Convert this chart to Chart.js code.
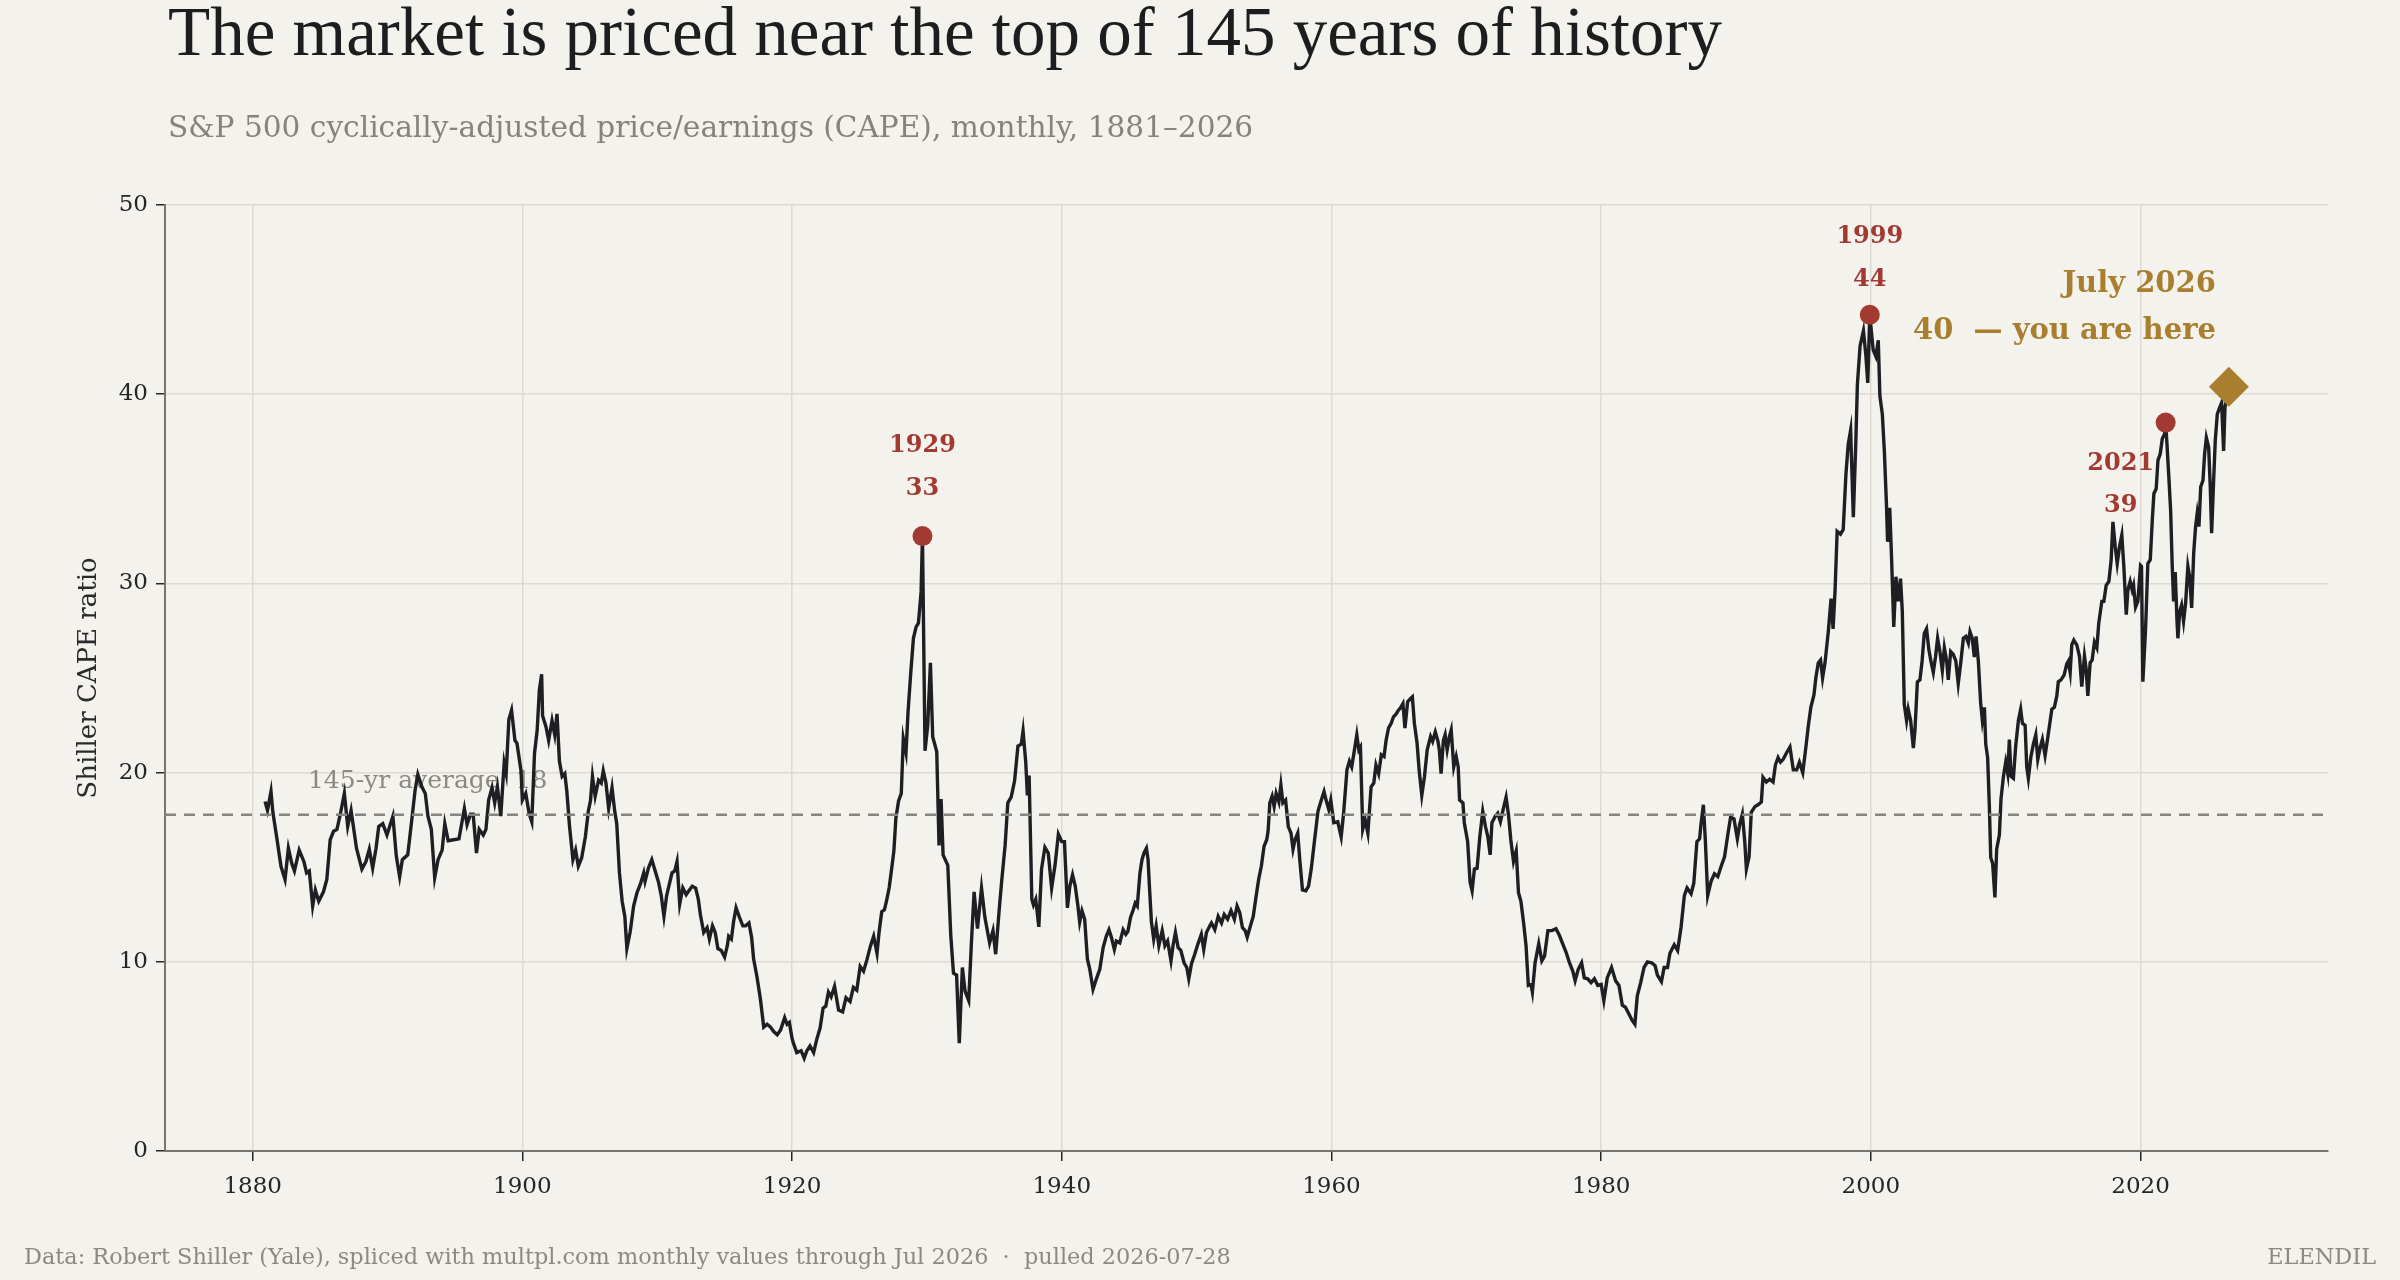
<!DOCTYPE html>
<html>
<head>
<meta charset="utf-8">
<title>Shiller CAPE</title>
<script src="https://cdn.jsdelivr.net/npm/chart.js@4.4.1/dist/chart.umd.min.js"></script>
<style>
  html, body { margin: 0; padding: 0; background: #f4f2ec; }
  canvas { display: block; }
</style>
</head>
<body>
<canvas id="capeChart" width="2400" height="1280" style="width:2400px;height:1280px"></canvas>
<script>
// monthly CAPE (decimal year, ratio)
const capeYears = [
  1880.92, 1881.1, 1881.36, 1881.5, 1881.8, 1882.1, 1882.4, 1882.65, 1882.9, 1883.1,
  1883.45, 1883.8, 1884.0, 1884.2, 1884.45, 1884.65, 1884.9, 1885.25, 1885.5, 1885.75,
  1886.0, 1886.25, 1886.5, 1886.8, 1887.05, 1887.3, 1887.7, 1888.1, 1888.4, 1888.65,
  1888.9, 1889.15, 1889.35, 1889.65, 1889.96, 1890.2, 1890.4, 1890.65, 1890.9, 1891.1,
  1891.5, 1891.8, 1892.05, 1892.25, 1892.55, 1892.8, 1893.0, 1893.25, 1893.5, 1893.75,
  1894.05, 1894.25, 1894.5, 1894.9, 1895.3, 1895.5, 1895.7, 1895.9, 1896.15, 1896.35,
  1896.6, 1896.8, 1897.1, 1897.3, 1897.5, 1897.75, 1897.95, 1898.15, 1898.4, 1898.65,
  1898.8, 1899.0, 1899.2, 1899.45, 1899.6, 1899.9, 1900.0, 1900.25, 1900.5, 1900.7,
  // 1901-1920
  1900.9, 1901.1, 1901.26, 1901.43, 1901.5, 1901.76, 1901.95, 1902.2, 1902.4, 1902.57,
  1902.75, 1902.95, 1903.15, 1903.3, 1903.5, 1903.75, 1903.95, 1904.15, 1904.4, 1904.67,
  1904.9, 1905.05, 1905.2, 1905.4, 1905.65, 1905.85, 1906.0, 1906.2, 1906.4, 1906.65,
  1906.85, 1907.0, 1907.2, 1907.4, 1907.6, 1907.75, 1908.0, 1908.25, 1908.5, 1908.75,
  1909.0, 1909.1, 1909.35, 1909.6, 1909.85, 1910.1, 1910.3, 1910.5, 1910.7, 1910.9,
  1911.1, 1911.3, 1911.47, 1911.67, 1911.9, 1912.15, 1912.35, 1912.6, 1912.85, 1913.05,
  1913.2, 1913.45, 1913.7, 1913.87, 1914.1, 1914.3, 1914.5, 1914.75, 1915.0, 1915.2,
  1915.3, 1915.5, 1915.67, 1915.85, 1916.1, 1916.35, 1916.55, 1916.8, 1917.0, 1917.15,
  1917.4, 1917.65, 1917.9, 1918.15, 1918.4, 1918.65, 1918.9, 1919.15, 1919.45, 1919.63,
  1919.8, 1920.0,
  // 1920-1940
  1920.1, 1920.35, 1920.67, 1920.9, 1921.1, 1921.33, 1921.6, 1921.83, 1922.08, 1922.3,
  1922.5, 1922.7, 1922.9, 1923.15, 1923.45, 1923.75, 1924.0, 1924.3, 1924.55, 1924.8,
  1925.05, 1925.3, 1925.55, 1925.8, 1926.05, 1926.3, 1926.45, 1926.65, 1926.85, 1927.0,
  1927.2, 1927.4, 1927.55, 1927.7, 1927.9, 1928.1, 1928.25, 1928.45, 1928.6, 1928.8,
  1929.0, 1929.2, 1929.37, 1929.57, 1929.67, 1929.86, 1930.06, 1930.26, 1930.43, 1930.73,
  1930.9, 1931.05, 1931.2, 1931.55, 1931.77, 1931.97, 1932.2, 1932.4, 1932.63, 1932.83,
  1933.1, 1933.3, 1933.5, 1933.75, 1934.05, 1934.3, 1934.65, 1934.9, 1935.1, 1935.35,
  1935.55, 1935.8, 1936.0, 1936.25, 1936.5, 1936.75, 1937.0, 1937.13, 1937.33, 1937.45,
  1937.58, 1937.78, 1937.9, 1938.07, 1938.3, 1938.5, 1938.75, 1939.0, 1939.25, 1939.5,
  1939.75, 1940.0,
  // 1940-1960
  1940.2, 1940.42, 1940.6, 1940.8, 1941.0, 1941.2, 1941.33, 1941.5, 1941.7, 1941.9,
  1942.08, 1942.32, 1942.57, 1942.82, 1943.07, 1943.3, 1943.5, 1943.68, 1943.9, 1944.05,
  1944.3, 1944.55, 1944.75, 1944.9, 1945.1, 1945.3, 1945.45, 1945.6, 1945.8, 1945.95,
  1946.1, 1946.28, 1946.4, 1946.5, 1946.65, 1946.82, 1947.0, 1947.2, 1947.45, 1947.65,
  1947.85, 1948.1, 1948.25, 1948.43, 1948.63, 1948.83, 1949.07, 1949.27, 1949.42, 1949.62,
  1949.86, 1950.1, 1950.35, 1950.53, 1950.73, 1950.98, 1951.1, 1951.35, 1951.6, 1951.85,
  1952.05, 1952.3, 1952.55, 1952.8, 1953.0, 1953.2, 1953.4, 1953.6, 1953.75, 1953.95,
  1954.2, 1954.4, 1954.6, 1954.8, 1955.0, 1955.2, 1955.3, 1955.43, 1955.6, 1955.75,
  1955.9, 1956.1, 1956.25, 1956.4, 1956.6, 1956.8, 1957.0, 1957.15, 1957.3, 1957.5,
  1957.65, 1957.85, 1958.1, 1958.3, 1958.5, 1958.75, 1959.0, 1959.25, 1959.45, 1959.6,
  1959.8, 1959.95,
  // 1960-1980
  1960.17, 1960.47, 1960.72, 1960.9, 1961.15, 1961.33, 1961.5, 1961.65, 1961.88, 1962.03,
  1962.15, 1962.32, 1962.5, 1962.7, 1962.94, 1963.14, 1963.3, 1963.5, 1963.7, 1963.9,
  1964.05, 1964.23, 1964.43, 1964.6, 1964.8, 1964.97, 1965.1, 1965.3, 1965.45, 1965.65,
  1965.85, 1966.0, 1966.15, 1966.35, 1966.5, 1966.7, 1966.9, 1967.1, 1967.35, 1967.5,
  1967.7, 1967.9, 1968.0, 1968.13, 1968.3, 1968.43, 1968.58, 1968.75, 1968.88, 1969.07,
  1969.25, 1969.4, 1969.5, 1969.75, 1969.85, 1970.1, 1970.28, 1970.43, 1970.6, 1970.8,
  1971.0, 1971.22, 1971.42, 1971.6, 1971.77, 1971.9, 1972.15, 1972.33, 1972.53, 1972.7,
  1972.95, 1973.13, 1973.3, 1973.5, 1973.7, 1973.87, 1974.05, 1974.25, 1974.43, 1974.6,
  1974.8, 1974.9, 1975.1, 1975.37, 1975.6, 1975.8, 1976.05, 1976.35, 1976.65, 1976.9,
  1977.15, 1977.4, 1977.65, 1977.9, 1978.07, 1978.3, 1978.55, 1978.75, 1979.0, 1979.25,
  1979.5, 1979.75, 1980.0,
  // 1980-2000
  1980.2, 1980.45, 1980.77, 1981.07, 1981.32, 1981.57, 1981.8, 1982.05, 1982.3, 1982.5,
  1982.68, 1982.93, 1983.18, 1983.43, 1983.75, 1984.0, 1984.17, 1984.47, 1984.67, 1984.92,
  1985.1, 1985.42, 1985.67, 1985.92, 1986.17, 1986.37, 1986.67, 1986.87, 1987.1, 1987.3,
  1987.4, 1987.58, 1987.73, 1987.9, 1988.15, 1988.4, 1988.65, 1988.9, 1989.15, 1989.4,
  1989.6, 1989.85, 1990.1, 1990.27, 1990.47, 1990.65, 1990.77, 1990.97, 1991.13, 1991.4,
  1991.63, 1991.88, 1992.0, 1992.25, 1992.5, 1992.75, 1992.92, 1993.12, 1993.3, 1993.5,
  1993.75, 1994.0, 1994.25, 1994.5, 1994.7, 1994.95, 1995.2, 1995.35, 1995.55, 1995.78,
  1995.92, 1996.1, 1996.27, 1996.42, 1996.6, 1996.85, 1997.05, 1997.2, 1997.35, 1997.5,
  1997.75, 1997.95, 1998.15, 1998.32, 1998.5, 1998.7, 1998.88, 1999.0, 1999.2, 1999.45,
  1999.63, 1999.77, 1999.92,
  // 2000-2015
  2000.17, 2000.37, 2000.55, 2000.67, 2000.85, 2001.0, 2001.16, 2001.24, 2001.4, 2001.53,
  2001.7, 2001.86, 2002.03, 2002.2, 2002.33, 2002.48, 2002.65, 2002.77, 2002.95, 2003.15,
  2003.27, 2003.45, 2003.64, 2003.8, 2003.96, 2004.13, 2004.3, 2004.45, 2004.63, 2004.8,
  2004.95, 2005.12, 2005.3, 2005.45, 2005.62, 2005.74, 2005.92, 2006.11, 2006.3, 2006.48,
  2006.68, 2006.86, 2007.05, 2007.23, 2007.35, 2007.52, 2007.67, 2007.8, 2007.97, 2008.14,
  2008.27, 2008.42, 2008.52, 2008.66, 2008.79, 2008.89, 2009.03, 2009.2, 2009.33, 2009.53,
  2009.65, 2009.83, 2010.0, 2010.15, 2010.27, 2010.4, 2010.57, 2010.74, 2010.94, 2011.11,
  2011.24, 2011.44, 2011.56, 2011.68, 2011.86, 2012.05, 2012.23, 2012.38, 2012.55, 2012.72,
  2012.92, 2013.1, 2013.3, 2013.42, 2013.61, 2013.79, 2013.9, 2014.1, 2014.33, 2014.53,
  2014.65, 2014.78, 2014.9, 2015.05,
  // 2015-2026
  2015.27, 2015.47, 2015.64, 2015.84, 2015.97, 2016.09, 2016.26, 2016.41, 2016.58, 2016.76,
  2016.9, 2017.13, 2017.28, 2017.45, 2017.65, 2017.82, 2017.95, 2018.12, 2018.27, 2018.44,
  2018.61, 2018.76, 2018.94, 2019.06, 2019.23, 2019.38, 2019.48, 2019.63, 2019.8, 2020.0,
  2020.07, 2020.17, 2020.37, 2020.54, 2020.72, 2020.87, 2020.99, 2021.16, 2021.29, 2021.46,
  2021.61, 2021.78, 2021.86, 2021.96, 2022.1, 2022.23, 2022.35, 2022.45, 2022.57, 2022.7,
  2022.77, 2022.9, 2023.04, 2023.19, 2023.34, 2023.51, 2023.64, 2023.79, 2023.94, 2024.08,
  2024.2, 2024.33, 2024.46, 2024.63, 2024.75, 2024.88, 2025.05, 2025.17, 2025.27, 2025.42,
  2025.54, 2025.69, 2025.87, 2026.01, 2026.16, 2026.26, 2026.36, 2026.55
];

const capeValues = [
  18.47, 18.0, 19.0, 17.9, 16.5, 15.05, 14.35, 16.0, 15.2, 14.8,
  15.9, 15.3, 14.7, 14.8, 12.95, 13.8, 13.2, 13.7, 14.35, 16.45,
  16.9, 17.0, 17.8, 18.9, 17.15, 18.0, 16.0, 14.9, 15.3, 15.95,
  14.95, 16.0, 17.15, 17.3, 16.7, 17.25, 17.7, 15.6, 14.5, 15.4,
  15.65, 17.5, 19.1, 19.9, 19.25, 18.9, 17.7, 17.0, 14.45, 15.4,
  15.9, 17.3, 16.4, 16.45, 16.5, 17.3, 18.1, 17.25, 17.8, 17.8,
  15.75, 17.0, 16.7, 17.0, 18.55, 19.2, 18.4, 19.25, 17.7, 20.5,
  19.95, 22.8, 23.3, 21.7, 21.55, 20.1, 18.55, 18.9, 17.85, 17.4,
  // 1901-1920
  21.0, 22.25, 24.35, 25.2, 23.0, 22.4, 21.7, 22.75, 22.0, 23.1,
  20.6, 19.8, 19.95, 19.0, 17.15, 15.4, 15.9, 15.05, 15.5, 16.6,
  18.0, 18.5, 19.8, 18.75, 19.6, 19.45, 20.1, 19.45, 18.1, 19.2,
  17.95, 17.3, 14.7, 13.2, 12.4, 10.7, 11.6, 12.95, 13.65, 14.1,
  14.7, 14.25, 14.95, 15.4, 14.8, 14.2, 13.5, 12.4, 13.5, 14.1,
  14.7, 14.8, 15.3, 13.05, 13.9, 13.55, 13.75, 14.0, 13.9, 13.3,
  12.5, 11.55, 11.8, 11.2, 11.9, 11.55, 10.7, 10.6, 10.25, 10.85,
  11.35, 11.2, 12.15, 12.85, 12.35, 11.9, 11.9, 12.05, 11.3, 10.15,
  9.2, 8.05, 6.55, 6.7, 6.55, 6.3, 6.15, 6.4, 7.05, 6.7,
  6.8, 5.95,
  // 1920-1940
  5.7, 5.2, 5.3, 4.9, 5.3, 5.55, 5.2, 5.9, 6.5, 7.55,
  7.65, 8.4, 8.15, 8.7, 7.45, 7.35, 8.1, 7.9, 8.65, 8.5,
  9.75, 9.5, 10.1, 10.8, 11.35, 10.45, 11.55, 12.65, 12.75, 13.2,
  13.9, 15.0, 15.85, 17.6, 18.5, 18.9, 21.8, 21.05, 23.2, 25.25,
  27.1, 27.7, 27.9, 29.55, 32.5, 21.15, 22.5, 25.8, 21.9, 21.1,
  16.15, 18.6, 15.65, 15.1, 11.4, 9.4, 9.3, 5.7, 9.7, 8.45,
  7.95, 11.0, 13.7, 11.75, 13.9, 12.35, 11.0, 11.65, 10.4, 12.65,
  14.3, 16.15, 18.4, 18.7, 19.55, 21.4, 21.5, 22.2, 20.55, 18.8,
  19.85, 13.3, 13.0, 13.3, 11.85, 14.9, 16.05, 15.75, 13.9, 15.1,
  16.75, 16.35,
  // 1940-1960
  16.35, 12.85, 14.0, 14.6, 14.0, 12.95, 12.1, 12.7, 12.25, 10.15,
  9.6, 8.55, 9.1, 9.6, 10.75, 11.35, 11.7, 11.3, 10.65, 11.1,
  11.0, 11.7, 11.45, 11.6, 12.35, 12.75, 13.1, 12.95, 14.7, 15.4,
  15.75, 16.0, 15.4, 14.0, 12.1, 11.2, 11.9, 10.85, 11.65, 10.85,
  11.1, 10.05, 10.85, 11.55, 10.75, 10.6, 9.95, 9.7, 9.1, 9.9,
  10.4, 10.95, 11.45, 10.65, 11.55, 11.9, 12.05, 11.7, 12.4, 12.05,
  12.5, 12.25, 12.7, 12.25, 12.95, 12.6, 11.8, 11.65, 11.3, 11.8,
  12.4, 13.4, 14.35, 15.05, 16.1, 16.45, 16.9, 18.4, 18.75, 18.2,
  18.9, 18.45, 19.35, 18.4, 18.55, 17.15, 16.8, 15.95, 16.45, 16.8,
  15.4, 13.8, 13.75, 14.0, 14.9, 16.45, 17.95, 18.55, 19.0, 18.55,
  18.05, 18.55,
  // 1960-1980
  17.35, 17.4, 16.6, 17.85, 20.15, 20.6, 20.3, 20.95, 22.0, 21.2,
  21.35, 17.0, 17.5, 16.8, 19.25, 19.45, 20.4, 19.95, 20.95, 20.85,
  21.7, 22.35, 22.6, 22.95, 23.1, 23.3, 23.4, 23.65, 22.35, 23.75,
  23.9, 24.0, 22.6, 21.55, 20.15, 18.8, 19.8, 21.2, 21.9, 21.65,
  22.15, 21.65, 21.2, 19.95, 21.7, 22.0, 21.2, 21.9, 22.25, 20.3,
  20.85, 20.3, 18.55, 18.4, 17.35, 16.35, 14.2, 13.75, 14.9, 14.95,
  16.6, 17.95, 17.15, 16.6, 15.65, 17.35, 17.7, 17.85, 17.4, 17.95,
  18.7, 17.75, 16.45, 15.3, 15.85, 13.65, 13.2, 12.05, 10.85, 8.75,
  8.8, 8.4, 9.95, 10.95, 10.05, 10.3, 11.65, 11.65, 11.75, 11.4,
  10.95, 10.5, 9.95, 9.5, 9.0, 9.6, 9.95, 9.15, 9.1, 8.9,
  9.1, 8.75, 8.8,
  // 1980-2000
  7.95, 9.15, 9.7, 9.0, 8.75, 7.7, 7.6, 7.25, 6.9, 6.7,
  8.2, 8.9, 9.7, 10.0, 9.95, 9.8, 9.3, 8.95, 9.7, 9.7,
  10.45, 10.9, 10.6, 11.8, 13.5, 13.9, 13.6, 14.15, 16.35, 16.5,
  17.25, 18.3, 16.35, 13.5, 14.25, 14.65, 14.5, 15.05, 15.55, 16.75,
  17.65, 17.55, 16.5, 17.25, 17.8, 16.35, 14.9, 15.55, 17.9, 18.2,
  18.3, 18.45, 19.75, 19.5, 19.65, 19.5, 20.4, 20.8, 20.55, 20.7,
  21.05, 21.35, 20.15, 20.15, 20.55, 20.0, 21.45, 22.4, 23.45, 24.1,
  25.0, 25.8, 25.95, 25.0, 25.8, 27.5, 29.2, 27.6, 29.7, 32.75,
  32.6, 32.85, 35.75, 37.35, 38.1, 33.5, 37.35, 40.5, 42.55, 43.35,
  42.05, 40.6, 44.2,
  // 2000-2015
  42.35, 42.0, 42.85, 39.9, 38.95, 37.0, 34.1, 32.2, 34.0, 31.45,
  27.7, 30.35, 29.05, 30.25, 28.55, 23.6, 22.75, 23.35, 22.75, 21.3,
  22.25, 24.8, 24.9, 25.9, 27.35, 27.6, 26.5, 25.9, 25.3, 26.15,
  27.1, 26.4, 25.4, 26.6, 25.9, 24.9, 26.4, 26.25, 25.9, 24.7,
  25.9, 27.1, 27.2, 26.85, 27.45, 27.1, 26.1, 27.2, 25.9, 23.7,
  22.75, 23.45, 21.5, 20.8, 18.15, 15.5, 15.2, 13.4, 15.95, 16.7,
  18.6, 19.8, 20.55, 19.95, 21.75, 19.8, 19.7, 21.4, 22.75, 23.35,
  22.6, 22.5, 20.3, 19.7, 20.8, 21.5, 22.0, 20.7, 21.3, 21.75,
  20.9, 21.75, 22.75, 23.35, 23.45, 24.05, 24.8, 24.9, 25.15, 25.75,
  25.9, 25.3, 26.75, 27.0,
  // 2015-2026
  26.75, 26.15, 24.55, 26.15, 25.45, 24.05, 25.8, 25.95, 26.9, 26.6,
  27.9, 29.05, 29.05, 29.9, 30.1, 31.25, 33.25, 31.95, 31.05, 31.95,
  32.55, 30.9, 28.35, 29.65, 30.1, 29.65, 29.9, 28.75, 29.05, 30.95,
  30.9, 24.8, 27.55, 31.05, 31.25, 33.35, 34.75, 35.0, 36.5, 36.85,
  37.65, 37.9, 38.5, 37.35, 35.6, 33.85, 30.9, 29.05, 30.6, 28.05,
  27.1, 28.5, 28.85, 28.0, 28.95, 30.9, 30.35, 28.7, 31.6, 33.0,
  33.7, 33.0, 35.1, 35.45, 36.85, 37.7, 37.2, 35.1, 32.65, 35.45,
  37.55, 38.95, 39.3, 39.55, 37.0, 39.3, 39.65, 40.4
];

const capeAverage = 17.77;
const avgLabelYear = 1884.1;

// labelled peaks
const peakYears = [1929.67, 1999.92, 2021.86];
const peakValues = [32.5, 44.2, 38.5];
const peakNames = ['1929', '1999', '2021'];

// latest reading
const nowYear = 2026.55;
const nowValue = 40.4;
const nowName = 'July 2026';

const xTickYears = [1880, 1900, 1920, 1940, 1960, 1980, 2000, 2020];
const yTickValues = [0, 10, 20, 30, 40, 50];

const xMin = 1873.5, xMax = 2033.9;

const paper = '#f4f2ec';
const serif = '"DejaVu Serif", serif';

const textLayer = {
  id: 'textLayer',
  beforeDraw(chart) {
    const ctx = chart.ctx;
    ctx.save();
    ctx.fillStyle = paper;
    ctx.fillRect(0, 0, chart.width, chart.height);
    ctx.restore();
  },
  beforeDatasetsDraw(chart) {
    const {ctx, scales} = chart;
    ctx.save();
    ctx.font = '25px ' + serif;
    ctx.fillStyle = '#8b8983';
    ctx.textAlign = 'left';
    ctx.textBaseline = 'alphabetic';
    ctx.fillText('145-yr average  ' + Math.round(capeAverage),
      scales.x.getPixelForValue(avgLabelYear), scales.y.getPixelForValue(capeAverage) - 27);
    ctx.restore();
  },
  afterDatasetsDraw(chart) {
    const ctx = chart.ctx;
    const peaks = chart.getDatasetMeta(2).data;
    // dx, offset of year line, offset of value line (px from the dot)
    const place = [[0, -90, -47], [0, -78, -35], [-45, 41, 83]];
    ctx.save();
    ctx.textAlign = 'center';
    ctx.textBaseline = 'middle';
    ctx.fillStyle = '#a33a32';
    ctx.font = 'bold 24px ' + serif;
    peaks.forEach((pt, i) => {
      const [dx, dyName, dyVal] = place[i];
      ctx.fillText(peakNames[i], pt.x + dx, pt.y + dyName);
      ctx.fillText(String(Math.round(peakValues[i])), pt.x + dx, pt.y + dyVal);
    });

    const now = chart.getDatasetMeta(3).data[0];
    ctx.textAlign = 'right';
    ctx.fillStyle = '#a97f2f';
    ctx.font = 'bold 29px ' + serif;
    ctx.fillText(nowName, now.x - 13, now.y - 102);
    ctx.fillText(Math.round(nowValue) + '  \u2014 you are here', now.x - 13, now.y - 55);
    ctx.restore();
  },
  afterDraw(chart) {
    const ctx = chart.ctx;
    ctx.save();
    ctx.textAlign = 'left';
    ctx.textBaseline = 'alphabetic';
    ctx.fillStyle = '#1d1d1f';
    ctx.font = '69px "Liberation Serif", serif';
    ctx.fillText('The market is priced near the top of 145 years of history', 168, 55);

    ctx.fillStyle = '#85837d';
    ctx.font = '29.6px ' + serif;
    ctx.fillText('S&P 500 cyclically-adjusted price/earnings (CAPE), monthly, 1881\u20132026', 168, 137);

    ctx.fillStyle = '#8b8983';
    ctx.font = '22.4px ' + serif;
    ctx.fillText('Data: Robert Shiller (Yale), spliced with multpl.com monthly values through Jul 2026  \u00b7  pulled 2026-07-28', 24, 1264);
    ctx.textAlign = 'right';
    ctx.fillText('ELENDIL', 2376, 1264);
    ctx.restore();
  }
};

const gridColor = '#dedad1';
const axisColor = '#77756e';
const inkColor = '#262626';

new Chart(document.getElementById('capeChart'), {
  type: 'line',
  data: {
    datasets: [
      {
        label: '145-yr average',
        data: [{x: xMin, y: capeAverage}, {x: xMax, y: capeAverage}],
        borderColor: '#86847e',
        borderWidth: 2.5,
        borderDash: [11, 8],
        pointRadius: 0,
        order: 1
      },
      {
        label: 'CAPE',
        data: capeYears.map((x, i) => ({x, y: capeValues[i]})),
        borderColor: '#1e1f23',
        borderWidth: 3.4,
        pointRadius: 0,
        tension: 0,
        order: 2
      },
      {
        label: 'peaks',
        data: peakYears.map((x, i) => ({x, y: peakValues[i]})),
        showLine: false,
        pointRadius: 10,
        pointBackgroundColor: '#a33a32',
        pointBorderWidth: 0,
        order: 0
      },
      {
        label: 'now',
        data: [{x: nowYear, y: nowValue}],
        showLine: false,
        pointStyle: 'rectRot',
        pointRadius: 20,
        pointBackgroundColor: '#a97f2f',
        pointBorderWidth: 0,
        order: 0
      }
    ]
  },
  options: {
    responsive: false,
    devicePixelRatio: 1,
    animation: false,
    layout: { padding: { top: 205, right: 72, bottom: 59, left: 0 } },
    plugins: {
      legend: { display: false },
      tooltip: { enabled: false }
    },
    scales: {
      x: {
        type: 'linear',
        min: xMin,
        max: xMax,
        afterBuildTicks: s => { s.ticks = xTickYears.map(v => ({value: v})); },
        afterFit: s => { s.height = 70; },
        grid: { color: gridColor, lineWidth: 1.5, tickColor: inkColor, tickLength: 10 },
        border: { display: true, color: axisColor, width: 2 },
        ticks: { color: inkColor, font: { family: serif, size: 23 }, padding: 12, maxRotation: 0, callback: v => String(v) }
      },
      y: {
        min: 0,
        max: 50,
        afterBuildTicks: s => { s.ticks = yTickValues.map(v => ({value: v})); },
        afterFit: s => { s.width = 165; },
        grid: { color: gridColor, lineWidth: 1.5, tickColor: inkColor, tickLength: 9 },
        border: { display: true, color: axisColor, width: 2 },
        ticks: { color: inkColor, font: { family: serif, size: 23 }, padding: 8, callback: v => String(v) },
        title: {
          display: true,
          text: 'Shiller CAPE ratio',
          color: '#2a2a2a',
          font: { family: serif, size: 26 },
          padding: { top: 74, bottom: 0 }
        }
      }
    }
  },
  plugins: [textLayer]
});
</script>
</body>
</html>
